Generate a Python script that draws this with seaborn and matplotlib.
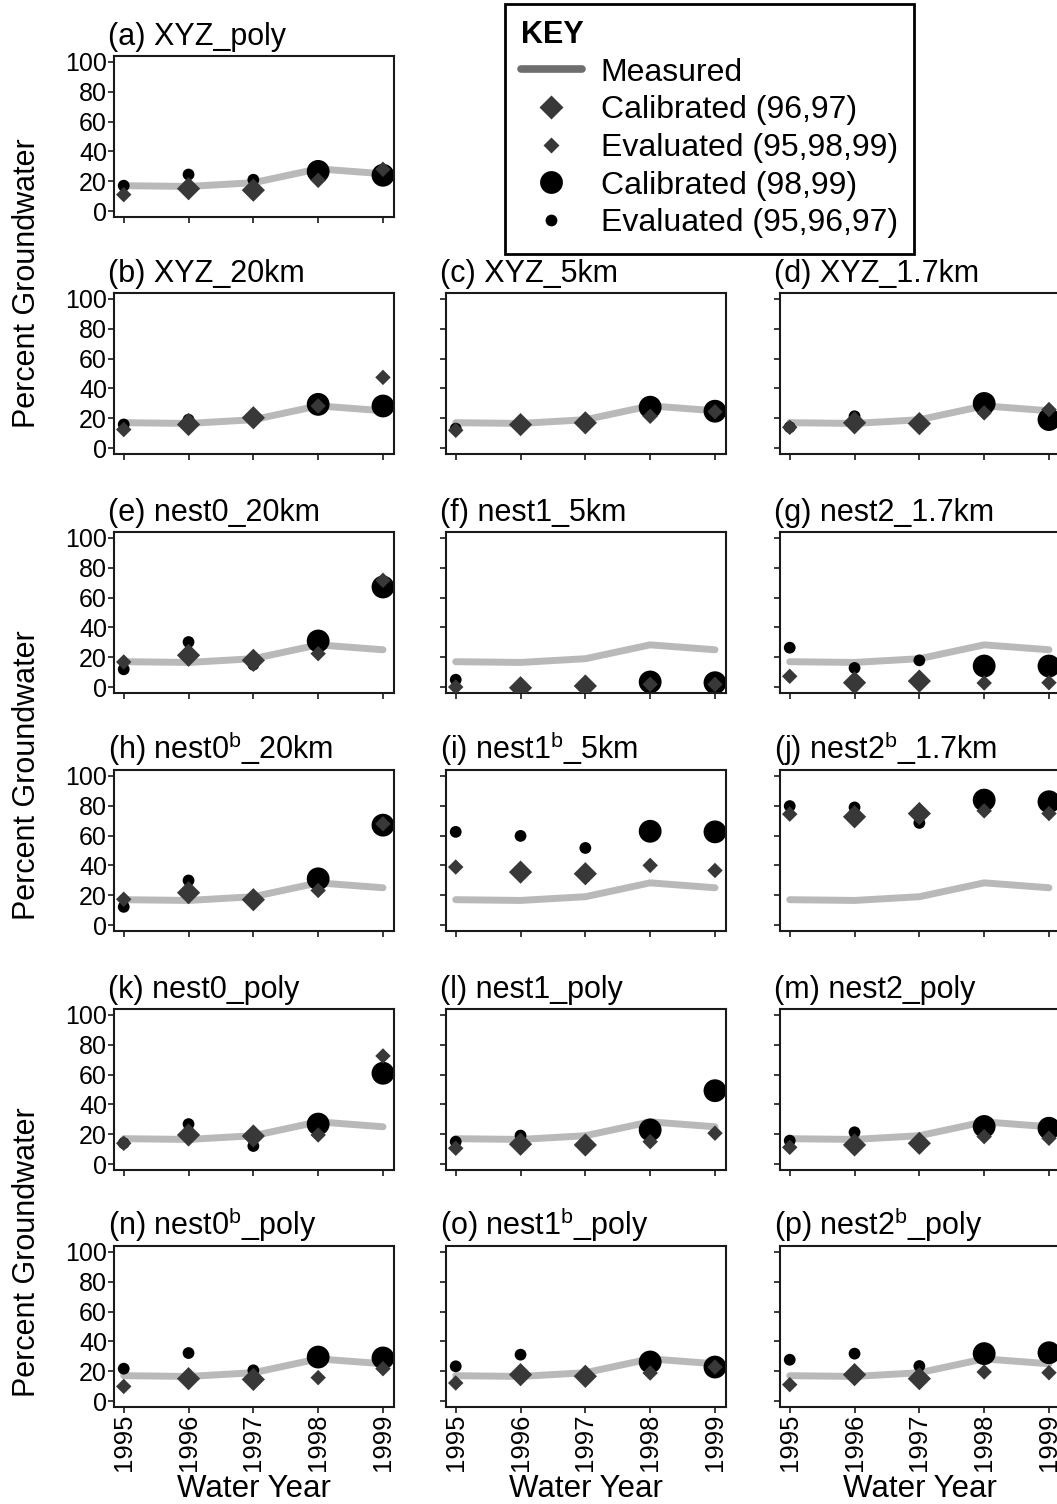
import numpy as np
import pandas as pd
import matplotlib
matplotlib.use("Agg")
import matplotlib.pyplot as plt
import seaborn as sns
from matplotlib.lines import Line2D

# ---------------- data ----------------
years = [1995, 1996, 1997, 1998, 1999]
measured = [17, 16.5, 19, 28.3, 25]
diamond_cal_years = [1996, 1997]
circle_cal_years = [1998, 1999]

titles = ["(a) XYZ_poly", "(b) XYZ_20km", "(c) XYZ_5km", "(d) XYZ_1.7km",
          "(e) nest0_20km", "(f) nest1_5km", "(g) nest2_1.7km",
          r"(h) nest0$^{\mathrm{b}}$_20km", r"(i) nest1$^{\mathrm{b}}$_5km",
          r"(j) nest2$^{\mathrm{b}}$_1.7km",
          "(k) nest0_poly", "(l) nest1_poly", "(m) nest2_poly",
          r"(n) nest0$^{\mathrm{b}}$_poly", r"(o) nest1$^{\mathrm{b}}$_poly",
          r"(p) nest2$^{\mathrm{b}}$_poly"]

diam_a = [11, 15, 14, 20.6, 28]
circ_a = [17, 24.5, 21, 26.6, 24]
diam_b = [12.4, 15.8, 20.3, 28.2, 47.4]
circ_b = [15.8, 19, 20, 29.3, 28.2]
diam_c = [11.9, 15.7, 16.9, 21.3, 24.3]
circ_c = [13, 16, 17, 27.4, 24.7]
diam_d = [13.9, 16.9, 16.4, 23.6, 25.8]
circ_d = [14, 21.3, 17, 29.9, 19.1]
diam_e = [16.8, 21.3, 17.9, 22.4, 71.6]
circ_e = [11.9, 30.2, 15, 30.9, 67.1]
diam_f = [0, -0.5, 0.7, 1.8, 1.8]
circ_f = [4.9, 0, 1, 3.4, 2.9]
diam_g = [7.2, 2.9, 4, 2.7, 2.9]
circ_g = [26.4, 12.8, 17.9, 14.1, 14.1]
diam_h = [17.3, 21.7, 17, 23.2, 67.9]
circ_h = [12.2, 29.9, 16, 31, 67]
diam_i = [38.9, 35.5, 34.4, 40, 36.6]
circ_i = [62.5, 59.8, 51.7, 62.9, 62.5]
diam_j = [74.4, 72.6, 74.8, 76.6, 74.8]
circ_j = [79.8, 78.9, 68.5, 83.8, 82.7]
diam_k = [13.9, 19.5, 18.8, 19.5, 72.5]
circ_k = [14, 26.8, 12.1, 26.8, 60.9]
diam_l = [10.6, 13.3, 12.8, 15, 20.7]
circ_l = [15, 19.1, 13, 22.9, 49.2]
diam_m = [11.2, 12.8, 13.9, 18.4, 17.3]
circ_m = [15.7, 21.3, 14, 25.2, 24]
diam_n = [9.8, 15, 14.5, 15.7, 21.7]
circ_n = [21.7, 32.2, 20.6, 29.5, 28.9]
diam_o = [12.1, 17.7, 16.6, 18.8, 22.8]
circ_o = [23.3, 31.1, 17, 26.2, 22.8]
diam_p = [11, 17.7, 15, 19.5, 19]
circ_p = [27.7, 31.8, 23.5, 31.8, 32.4]

diamonds = [diam_a, diam_b, diam_c, diam_d, diam_e, diam_f, diam_g, diam_h,
            diam_i, diam_j, diam_k, diam_l, diam_m, diam_n, diam_o, diam_p]
circles = [circ_a, circ_b, circ_c, circ_d, circ_e, circ_f, circ_g, circ_h,
           circ_i, circ_j, circ_k, circ_l, circ_m, circ_n, circ_o, circ_p]

# (row, col) grid positions of each panel
positions = [(0, 0), (1, 0), (1, 1), (1, 2), (2, 0), (2, 1), (2, 2),
             (3, 0), (3, 1), (3, 2), (4, 0), (4, 1), (4, 2),
             (5, 0), (5, 1), (5, 2)]

# ---------------- style ----------------
sns.set_theme(style="ticks")
plt.rcParams["font.family"] = ["Liberation Sans", "DejaVu Sans"]
plt.rcParams["mathtext.fontset"] = "custom"
plt.rcParams["mathtext.rm"] = "Liberation Sans"
plt.rcParams["mathtext.it"] = "Liberation Sans:italic"
plt.rcParams["text.color"] = "black"
plt.rcParams["axes.labelcolor"] = "black"
plt.rcParams["xtick.color"] = "black"
plt.rcParams["ytick.color"] = "black"

W, H = 1057, 1504
fig = plt.figure(figsize=(W / 100, H / 100), dpi=100)

col_left = [114, 446, 780]
row_top = [56, 293, 532, 770, 1009, 1246]
ax_w, ax_h = 280, 161

LINE_C = "#b9b9b9"
DIAM_C = "#383838"
CIRC_C = "#000000"
S_DIAM_BIG, S_DIAM_SMALL = 140, 62
S_CIRC_BIG, S_CIRC_SMALL = 270, 72

for idx, (r, c) in enumerate(positions):
    l = col_left[c] / W
    b = 1 - (row_top[r] + ax_h) / H
    ax = fig.add_axes([l, b, ax_w / W, ax_h / H])
    df = pd.DataFrame({"year": years, "measured": measured,
                       "diamond": diamonds[idx], "circle": circles[idx]})
    dcal = df["year"].isin(diamond_cal_years)
    ccal = df["year"].isin(circle_cal_years)

    sns.lineplot(data=df, x="year", y="measured", ax=ax, color=LINE_C,
                 linewidth=5, zorder=1, legend=False)
    sns.scatterplot(data=df[ccal], x="year", y="circle", ax=ax, marker="o",
                    s=S_CIRC_BIG, color=CIRC_C, edgecolor="none", zorder=2,
                    legend=False)
    sns.scatterplot(data=df[~ccal], x="year", y="circle", ax=ax, marker="o",
                    s=S_CIRC_SMALL, color=CIRC_C, edgecolor="none", zorder=2,
                    legend=False)
    sns.scatterplot(data=df[dcal], x="year", y="diamond", ax=ax, marker="D",
                    s=S_DIAM_BIG, color=DIAM_C, edgecolor="none", zorder=3,
                    legend=False)
    sns.scatterplot(data=df[~dcal], x="year", y="diamond", ax=ax, marker="D",
                    s=S_DIAM_SMALL, color=DIAM_C, edgecolor="none", zorder=3,
                    legend=False)

    ax.set_xlim(1994.85, 1999.17)
    ax.set_ylim(-4, 104)
    ax.set_xticks(years)
    ax.set_yticks([0, 20, 40, 60, 80, 100])
    for sp in ax.spines.values():
        sp.set_color("#1a1a1a")
        sp.set_linewidth(1.5)
    ax.tick_params(axis="both", direction="out", length=4, width=1.2,
                   color="#1a1a1a", labelsize=18, pad=1, labelcolor="black")
    ax.set_xlabel("")
    ax.set_ylabel("")
    if c != 0:
        ax.set_yticklabels([])
    if r != 5:
        ax.set_xticklabels([])
    else:
        ax.set_xticklabels([str(y) for y in years], rotation=90, fontsize=18.5)
        ax.set_xlabel("Water Year", fontsize=22.5, labelpad=2)
    ax.set_title(titles[idx], loc="left", fontsize=22, pad=8, x=-0.02,
                 color="black")

# y-axis labels
for yc in [283, 775, 1252]:
    fig.text(27 / W, 1 - yc / H, "Percent Groundwater", rotation=90,
             ha="center", va="center", fontsize=22, color="black")

# key
handles = [
    Line2D([], [], color="#6e6e6e", lw=5.5),
    Line2D([], [], ls="none", marker="D", ms=np.sqrt(S_DIAM_BIG),
           color=DIAM_C, mec="none"),
    Line2D([], [], ls="none", marker="D", ms=np.sqrt(S_DIAM_SMALL),
           color=DIAM_C, mec="none"),
    Line2D([], [], ls="none", marker="o", ms=np.sqrt(S_CIRC_BIG),
           color=CIRC_C, mec="none"),
    Line2D([], [], ls="none", marker="o", ms=np.sqrt(S_CIRC_SMALL),
           color=CIRC_C, mec="none"),
]
labels = ["Measured", "Calibrated (96,97)", "Evaluated (95,98,99)",
          "Calibrated (98,99)", "Evaluated (95,96,97)"]
leg = fig.legend(handles, labels, loc="upper left",
                 bbox_to_anchor=(505 / W, 1 - 4 / H), borderaxespad=0,
                 fontsize=23,
                 title="KEY", title_fontproperties={"weight": "bold", "size": 22},
                 alignment="left", frameon=True, fancybox=False,
                 edgecolor="black", framealpha=1, handlelength=1.9,
                 labelspacing=0.24, borderpad=0.5, handletextpad=0.6)
leg.get_frame().set_linewidth(2)
for t in leg.get_texts():
    t.set_color("black")

fig.savefig("out.png", dpi=100)
